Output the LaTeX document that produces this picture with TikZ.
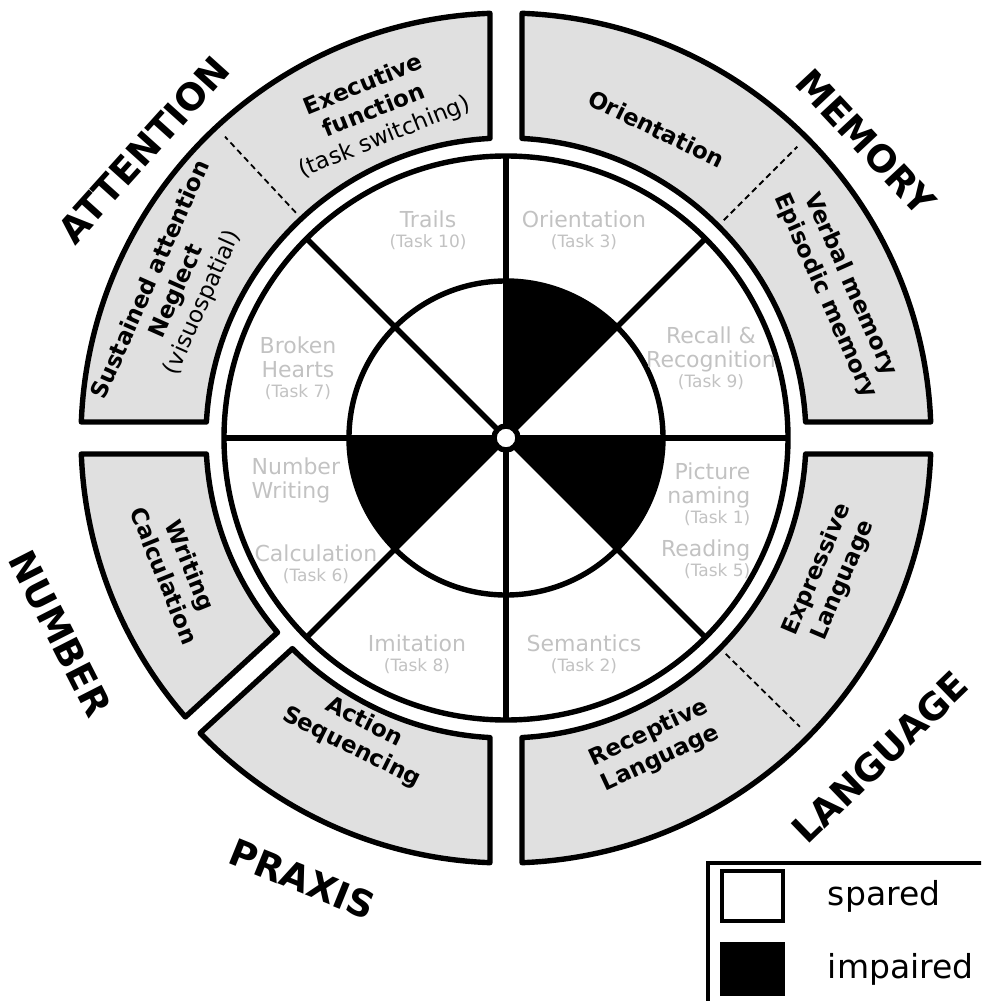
\documentclass[tikz,border=0pt]{standalone}
\usepackage{fontspec}
\setmainfont{DejaVu Sans}
\definecolor{ringgray}{gray}{0.88}
\definecolor{taskgray}{gray}{0.76}

\begin{document}
\begin{tikzpicture}[x=0.5pt,y=0.5pt,line width=2.7pt,
    task/.style={text=taskgray,font=\fontsize{11}{12}\selectfont,align=center,inner sep=0pt},
    ring/.style={fill=ringgray,draw=black,line join=round},
    area/.style={font=\fontsize{11.5}{14}\selectfont\bfseries,align=center,inner sep=0pt},
    big/.style={font=\fontsize{18.5}{22}\selectfont\bfseries,inner sep=0pt},
    split/.style={line width=0.9pt,dash pattern=on 3pt off 2pt},
    keybox/.style={draw,line width=2pt,minimum width=30.5pt,minimum height=25pt,inner sep=0pt}]
\useasboundingbox (-506,-563) rectangle (475,438);

% outer ring: three quadrants, then number / praxis
\foreach \a in {0,90,270}
  \draw[ring] (\a+3.06:300) -- (\a+2.16:425) arc[start angle=\a+2.16,end angle=\a+87.84,radius=425]
    -- (\a+86.94:300) arc[start angle=\a+86.94,end angle=\a+3.06,radius=300] -- cycle;
\draw[ring] (183.06:300) -- (182.16:425) arc[start angle=182.16,end angle=221.02,radius=425]
  -- (220.4:300) arc[start angle=220.4,end angle=183.06,radius=300] -- cycle;
\draw[ring] (224.6:300) -- (223.98:425) arc[start angle=223.98,end angle=267.84,radius=425]
  -- (266.94:300) arc[start angle=266.94,end angle=224.6,radius=300] -- cycle;
\foreach \a in {133,45,-44.5}
  \draw[split] (\a:308) -- (\a:412);

% wheel
\foreach \a in {45,180,315}
  \fill (0,0) -- (\a:157) arc[start angle=\a,end angle=\a+45,radius=157] -- cycle;
\draw (0,0) circle[radius=282];
\draw (0,0) circle[radius=157];
\foreach \a in {0,45,...,315}
  \draw (0,0) -- (\a:282);
\draw[fill=white] (0,0) circle[radius=12];

% tasks
\node[task] (trails) at (-78,208) {Trails\\[-2pt]{\fontsize{8.5}{10}\selectfont(Task 10)}};
\node[task] (orient) at (78,208) {Orientation\\[-2pt]{\fontsize{8.5}{10}\selectfont(Task 3)}};
\node[task] (recall) at (205,80) {Recall \&\\Recognition\\[-2pt]{\fontsize{8.5}{10}\selectfont(Task 9)}};
\node[task] (hearts) at (-208,70) {Broken\\Hearts\\[-2pt]{\fontsize{8.5}{10}\selectfont(Task 7)}};
\node[task,anchor=west,align=left] (numwrite) at (-257,-42) {Number\\Writing};
\node[task] (calc) at (-190,-126) {Calculation\\[-2pt]{\fontsize{8.5}{10}\selectfont(Task 6)}};
\node[task,anchor=east,align=right] (naming) at (247,-56) {Picture\\naming\\[-2pt]{\fontsize{8.5}{10}\selectfont(Task 1)}};
\node[task,anchor=east,align=right] (reading) at (247,-121) {Reading\\[-2pt]{\fontsize{8.5}{10}\selectfont(Task 5)}};
\node[task] (imit) at (-89,-216) {Imitation\\[-2pt]{\fontsize{8.5}{10}\selectfont(Task 8)}};
\node[task] (sem) at (78,-216) {Semantics\\[-2pt]{\fontsize{8.5}{10}\selectfont(Task 2)}};

% areas in the ring
\node[area,rotate=22] (exec) at (112:352) {Executive\\function\\{\mdseries(task switching)}};
\node[area,rotate=66] (sust) at (156:360) {Sustained attention\\Neglect\\{\mdseries(visuospatial)}};
\node[area,rotate=-26] (memor) at (64:344) {Orientation};
\node[area,rotate=-66] (verbal) at (24:363) {Verbal memory\\Episodic memory};
\node[area,rotate=-68] (wcalc) at (202:354) {Writing\\Calculation};
\node[area,rotate=-26.5] (action) at (243.5:332) {Action\\Sequencing};
\node[area,rotate=67] (expr) at (-22.9:352) {Expressive\\Language};
\node[area,rotate=25] (recep) at (-64.2:342) {Receptive\\Language};

% outer labels
\node[big,rotate=48] (att) at (141.5:463) {ATTENTION};
\node[big,rotate=-47] (mem) at (39.4:466) {MEMORY};
\node[big,rotate=-63] (num) at (203.7:487) {NUMBER};
\node[big,rotate=-22] (prax) at (245.2:486) {PRAXIS};
\node[big,rotate=44] (lang) at (-40.5:492) {LANGUAGE};

% key
\begin{scope}
\clip (-506,-563) rectangle (475,438);
\draw[line width=2pt] (202,-425) rectangle (490,-580);
\node[keybox,fill=white] (spared) at (246,-458) {};
\node[keybox,fill=black] (impaired) at (246,-531) {};
\node[anchor=west,font=\fontsize{16.5}{18}\selectfont] (sparedtxt) at ([xshift=17pt]spared.east) {spared};
\node[anchor=west,font=\fontsize{16.5}{18}\selectfont] (impairedtxt) at ([xshift=17pt]impaired.east) {impaired};
\end{scope}
\end{tikzpicture}
\end{document}
